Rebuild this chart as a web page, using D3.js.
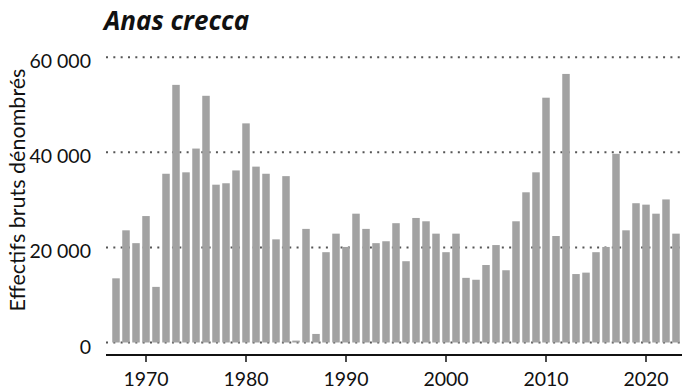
<!DOCTYPE html>
<html>
<head>
<meta charset="utf-8">
<script src="https://cdn.jsdelivr.net/npm/d3@7"></script>
<style>
  html, body { margin: 0; padding: 0; background: #fff; }
  svg { display: block; }
  text { font-family: Lato, "Noto Sans", sans-serif; fill: #111; }
</style>
</head>
<body>
<svg id="chart" width="682" height="392"></svg>
<script>
// Winter counts of Eurasian teal, 1967–2023
const years = d3.range(1967, 2024);
const counts = [
  13500, 23600, 20900, 26600, 11700, 35500, 54200, 35800, 40800, 51900,
  33200, 33500, 36200, 46100, 37000, 35500, 21700, 35000, 400, 23900,
  1800, 19000, 22900, 20100, 27100, 23900, 20900, 21300, 25100, 17100,
  26200, 25500, 22900, 19000, 22900, 13600, 13200, 16300, 20500, 15200,
  25500, 31600, 35800, 51500, 22400, 56500, 14400, 14700, 19000, 20100,
  39700, 23600, 29300, 29000, 27100, 30100, 22900
];
const yTicks = [0, 20000, 40000, 60000];
const xTicks = [1970, 1980, 1990, 2000, 2010, 2020];
const title = "Anas crecca";
const yTitle = "Effectifs bruts dénombrés";

const svg = d3.select("#chart");
const plotLeft = 106, plotRight = 682;

const x = d3.scaleBand()
  .domain(years)
  .range([111, 681])
  .paddingInner(0.25)
  .paddingOuter(0.125);

const y = d3.scaleLinear()
  .domain([0, 60000])
  .range([342.5, 57.3]);

const fmt = v => d3.format(",")(v).replace(/,/g, " ");

// dotted horizontal gridlines
svg.append("g")
  .selectAll("line")
  .data(yTicks)
  .join("line")
  .attr("x1", plotLeft)
  .attr("x2", plotRight)
  .attr("y1", d => y(d))
  .attr("y2", d => y(d))
  .attr("stroke", "#555")
  .attr("stroke-width", 2)
  .attr("stroke-dasharray", "2 5.33");

// y tick labels
svg.append("g")
  .selectAll("text")
  .data(yTicks)
  .join("text")
  .attr("x", 91)
  .attr("y", d => y(d) + 11)
  .attr("text-anchor", "end")
  .style("font-size", "19.5px")
  .text(d => fmt(d));

// bars
svg.append("g")
  .selectAll("rect")
  .data(years.map((yr, i) => ({ yr, v: counts[i] })))
  .join("rect")
  .attr("x", d => x(d.yr))
  .attr("width", x.bandwidth())
  .attr("y", d => y(d.v))
  .attr("height", d => y(0) - y(d.v))
  .attr("fill", "#a2a2a2");

// x axis
const xAxis = d3.axisBottom(x)
  .tickValues(xTicks)
  .tickSize(7)
  .tickPadding(10);

const gx = svg.append("g")
  .attr("transform", "translate(0,355)")
  .call(xAxis);
gx.select(".domain").remove();
gx.selectAll(".tick line").attr("stroke", "#111").attr("stroke-width", 1.5);
gx.selectAll(".tick text")
  .style("font-size", "19.5px")
  .style("font-family", "Lato, 'Noto Sans', sans-serif")
  .attr("fill", "#111");
gx.append("line")
  .attr("x1", plotLeft)
  .attr("x2", plotRight)
  .attr("y1", 0)
  .attr("y2", 0)
  .attr("stroke", "#111")
  .attr("stroke-width", 2);

// title
svg.append("text")
  .attr("x", 104)
  .attr("y", 29.5)
  .style("font-family", "'Open Sans', Lato, sans-serif")
  .style("font-size", "26px")
  .style("font-weight", "bold")
  .style("font-style", "italic")
  .text(title);

// y axis title
svg.append("text")
  .attr("transform", "translate(25,190) rotate(-90)")
  .attr("text-anchor", "middle")
  .style("font-size", "21.5px")
  .text(yTitle);
</script>
</body>
</html>
